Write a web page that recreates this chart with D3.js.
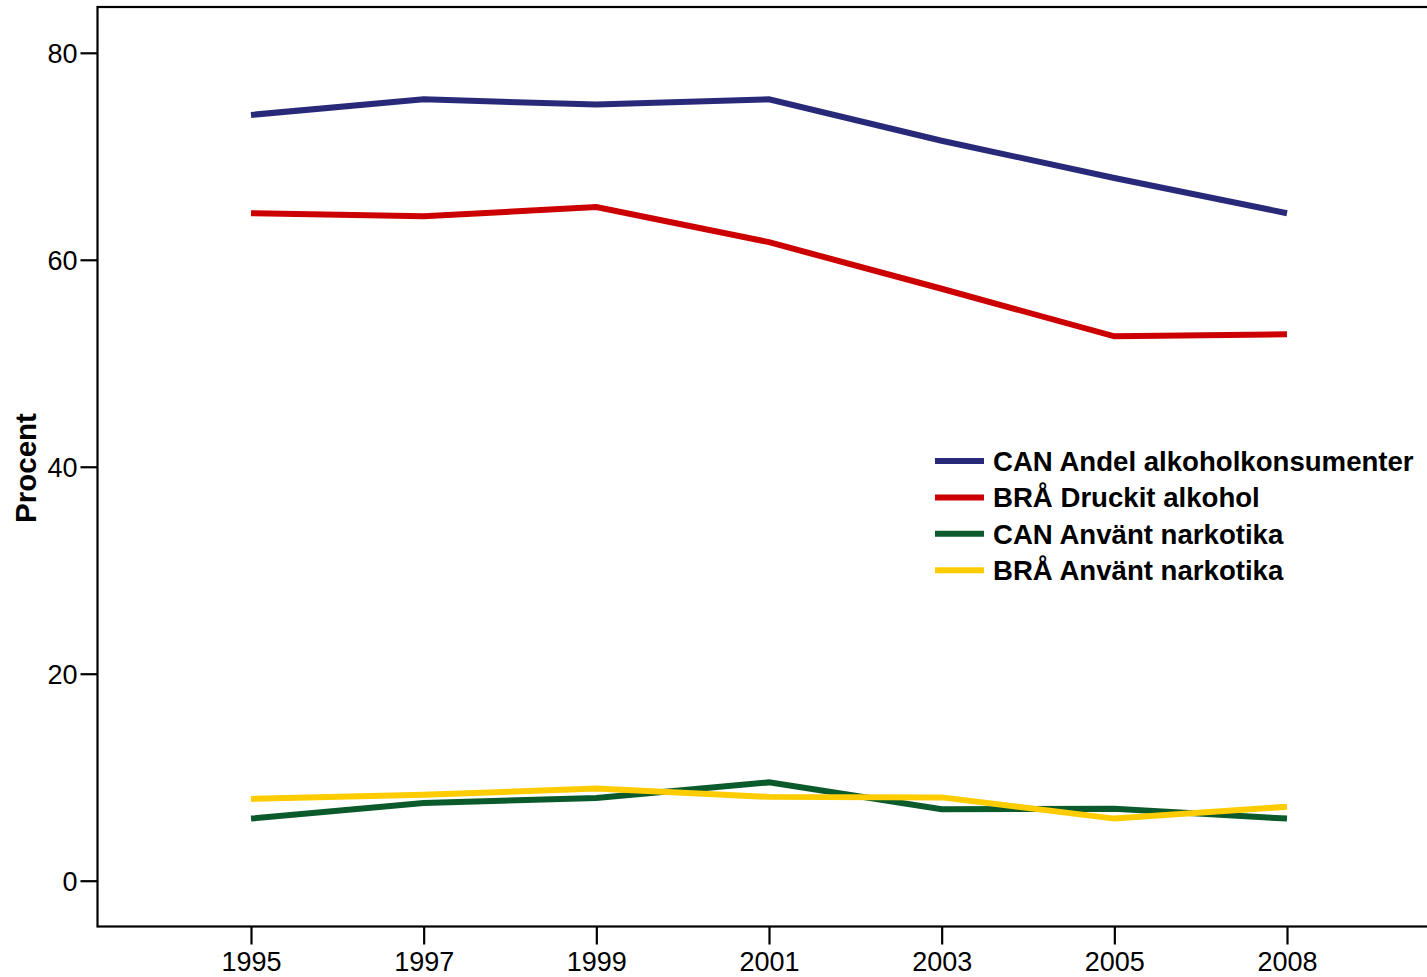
<!DOCTYPE html>
<html>
<head>
<meta charset="utf-8">
<script src="https://cdn.jsdelivr.net/npm/d3@7"></script>
<style>
  html, body { margin: 0; padding: 0; background: #fff; }
  svg { display: block; }
  text { font-family: "Liberation Sans", Arial, sans-serif; }
</style>
</head>
<body>
<svg id="chart" width="1427" height="977"></svg>
<script>
const years = ["1995", "1997", "1999", "2001", "2003", "2005", "2008"];
const canAlkohol = [74.0, 75.5, 75.0, 75.5, 71.5, 67.9, 64.5];
const braAlkohol = [64.5, 64.2, 65.1, 61.7, 57.2, 52.6, 52.8];
const canNarkotika = [6.0, 7.5, 8.0, 9.5, 6.9, 6.95, 6.0];
const braNarkotika = [7.9, 8.3, 8.9, 8.1, 8.05, 6.0, 7.15];
const yTicks = [0, 20, 40, 60, 80];
const seriesNames = ["CAN Andel alkoholkonsumenter", "BRÅ Druckit alkohol", "CAN Använt narkotika", "BRÅ Använt narkotika"];
const seriesColors = ["#29297a", "#cc0000", "#0b5a2b", "#ffcc00"];
const seriesValues = [canAlkohol, braAlkohol, canNarkotika, braNarkotika];

const svg = d3.select("#chart");
const frame = { left: 97.5, top: 7, right: 1440, bottom: 926.5 };

const x = d3.scalePoint().domain(years).range([251, 1287]);
const y = d3.scaleLinear().domain([0, 80]).range([880.7, 52.8]);

// frame
svg.append("rect")
  .attr("x", frame.left).attr("y", frame.top)
  .attr("width", frame.right - frame.left).attr("height", frame.bottom - frame.top)
  .attr("fill", "none").attr("stroke", "#000").attr("stroke-width", 2.2);

// y axis
const yAxis = svg.append("g")
  .attr("transform", `translate(${frame.left},0)`)
  .call(d3.axisLeft(y).tickValues(yTicks).tickSize(17).tickPadding(3).tickFormat(d3.format("d")));
yAxis.select(".domain").remove();
yAxis.selectAll(".tick line").attr("stroke", "#000").attr("stroke-width", 2.2);
yAxis.selectAll(".tick text").attr("fill", "#000").style("font-size", "27px")
  .attr("dy", "0.35em");

// x axis
const xAxis = svg.append("g")
  .attr("transform", `translate(0,${frame.bottom})`)
  .call(d3.axisBottom(x).tickSize(18).tickPadding(7));
xAxis.select(".domain").remove();
xAxis.selectAll(".tick line").attr("stroke", "#000").attr("stroke-width", 2.2);
xAxis.selectAll(".tick text").attr("fill", "#000").style("font-size", "27px");

// y title
svg.append("text")
  .attr("transform", "translate(36,468) rotate(-90)")
  .attr("text-anchor", "middle")
  .style("font-size", "29.5px").style("font-weight", "bold")
  .text("Procent");

// lines
const line = d3.line()
  .x((d, i) => x(years[i]))
  .y(d => y(d));

seriesValues.forEach((vals, k) => {
  svg.append("path")
    .datum(vals)
    .attr("d", line)
    .attr("fill", "none")
    .attr("stroke", seriesColors[k])
    .attr("stroke-width", 6)
    .attr("stroke-linejoin", "miter")
    .attr("stroke-linecap", "butt");
});

// legend
const legend = svg.append("g");
seriesNames.forEach((name, k) => {
  const cy = 461 + k * 36.4;
  legend.append("line")
    .attr("x1", 935).attr("x2", 984)
    .attr("y1", cy).attr("y2", cy)
    .attr("stroke", seriesColors[k]).attr("stroke-width", 6);
  legend.append("text")
    .attr("x", 993).attr("y", cy + 10)
    .style("font-size", "27.6px").style("font-weight", "bold")
    .attr("fill", "#000")
    .text(name);
});
</script>
</body>
</html>
